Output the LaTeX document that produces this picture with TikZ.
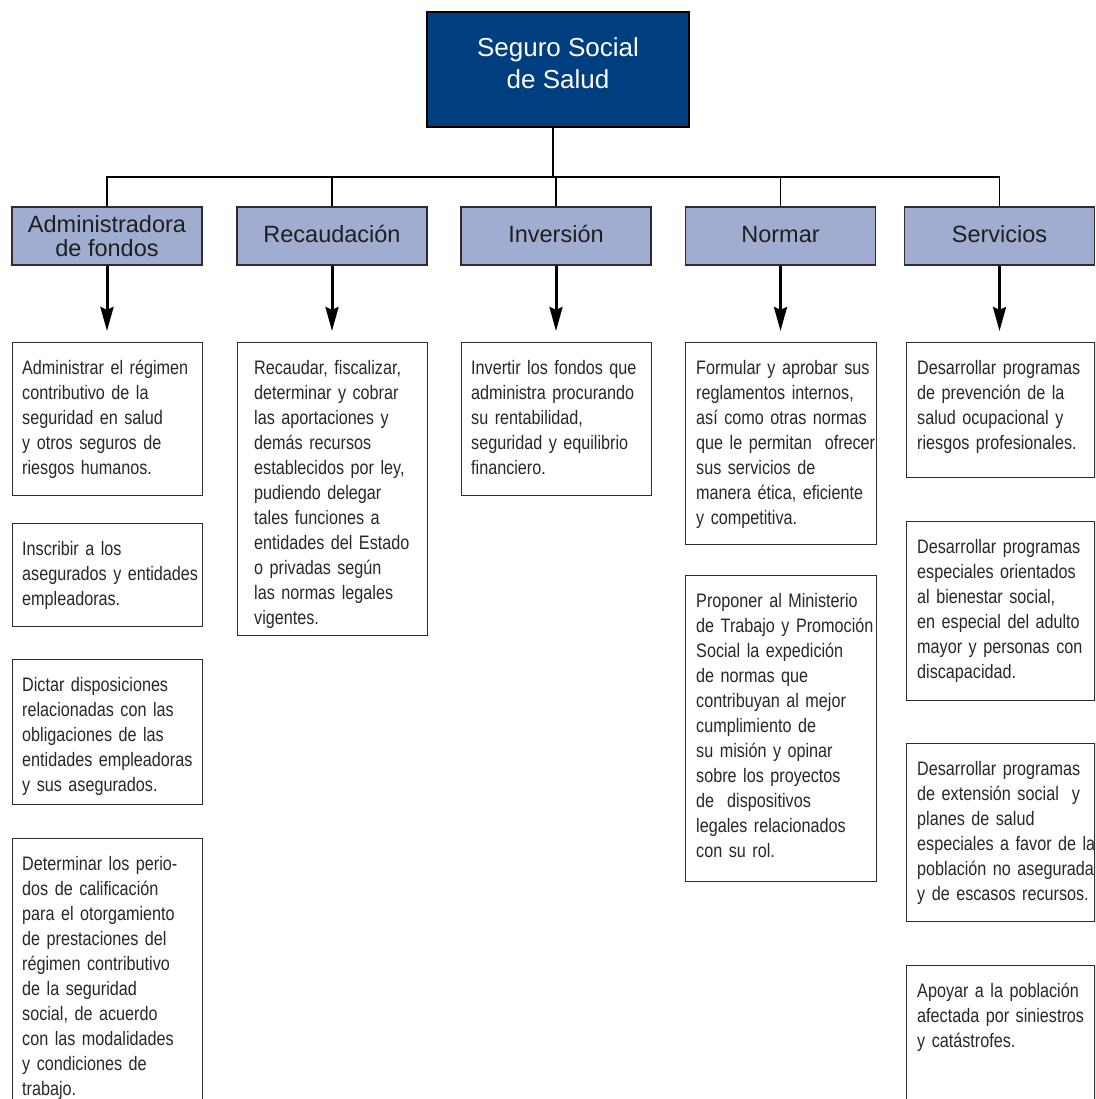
\documentclass[tikz,border=0pt]{standalone}
\usepackage{fontspec}
\usetikzlibrary{arrows.meta}
\newfontfamily\hfont{Liberation Sans}
\newfontfamily\condfont[FakeStretch=0.83]{Liberation Sans}
\definecolor{topblue}{RGB}{0,63,127}
\definecolor{headfill}{RGB}{160,172,208}
\definecolor{bordergray}{RGB}{45,45,45}
\definecolor{txtgray}{RGB}{40,40,40}
\setlength{\parindent}{0pt}
\newcommand\bodyfont{\condfont\fontsize{19.5}{25}\selectfont}
\newcommand\mkbox[7][10]{%
  \node[tbox, minimum width=#5-#3, minimum height=#6-#4, anchor=north west] (#2) at (#3,#4) {};
  \node[ttext] (#2t) at ([xshift=#1pt,yshift=-14pt]#2.north west) {\rule{0pt}{18pt}#7};
}
\begin{document}
\begin{tikzpicture}[x=1pt,y=-1pt,
  tbox/.style={draw=bordergray, line width=1.3pt, fill=white, inner sep=0pt},
  ttext/.style={anchor=north west, inner sep=0pt, text width=200pt, align=left, text=txtgray,
    font=\bodyfont},
  hbox/.style={draw=bordergray, line width=1.3pt, fill=headfill, minimum width=190pt, minimum height=58pt,
    inner sep=0pt, align=center, text=black!88, font=\hfont\fontsize{23.5}{24}\selectfont},
  one/.style={text height=17pt, text depth=5pt},
  conn/.style={line width=1.3pt, black},
  arr/.style={line width=3pt, black, -{Stealth[length=24pt, width=13pt, inset=3pt]}, shorten >=11pt}
]
\useasboundingbox (0,0) rectangle (1095,1099);
\clip (0,0) rectangle (1095,1099);
\fill[white] (0,0) rectangle (1095,1099);

% top box
\node[draw=black, line width=1.3pt, fill=topblue, minimum width=262pt, minimum height=115pt, inner sep=0pt] (top) at (558,69.5) {};
\node[text=white, align=center, inner sep=0pt, font=\hfont\fontsize{26}{32}\selectfont] (toplbl) at (558,63) {Seguro Social\\de Salud};

% second level
\node[hbox] (h1) at (107,236) {Administradora\\de fondos};
\node[hbox, one] (h2) at (332,236) {Recaudación};
\node[hbox, one] (h3) at (556,236) {Inversión};
\node[hbox, one] (h4) at (780.5,236) {Normar};
\node[hbox, one] (h5) at (999.5,236) {Servicios};

\coordinate (j) at (553,177);
\draw[conn] (top.south -| j) -- (j);
\draw[conn] (h1.north) -- (h1.north |- j) -- (h5.north |- j) -- (h5.north);
\draw[conn] (h2.north) -- (h2.north |- j);
\draw[conn] (h3.north) -- (h3.north |- j);
\draw[conn] (h4.north) -- (h4.north |- j);

% column 1
\mkbox{b11}{12}{342}{202}{495}{Administrar el régimen\\contributivo de la\\seguridad en salud\\y otros seguros de\\riesgos humanos.}
\mkbox{b12}{12}{523}{202}{626}{Inscribir a los\\asegurados y entidades\\empleadoras.}
\mkbox{b13}{12}{659}{202}{804}{Dictar disposiciones\\relacionadas con las\\obligaciones de las\\entidades empleadoras\\y sus asegurados.}
\mkbox{b14}{12}{838}{202}{1115}{Determinar los perio-\\dos de calificación\\para el otorgamiento\\de prestaciones del\\régimen contributivo\\de la seguridad\\social, de acuerdo\\con las modalidades\\y condiciones de\\trabajo.}

% column 2
\mkbox[17]{b21}{237}{342}{427}{635}{Recaudar, fiscalizar,\\determinar y cobrar\\las aportaciones y\\demás recursos\\establecidos por ley,\\pudiendo delegar\\tales funciones a\\entidades del Estado\\o privadas según\\las normas legales\\vigentes.}

% column 3
\mkbox{b31}{461}{342}{651}{495}{Invertir los fondos que\\administra procurando\\su rentabilidad,\\seguridad y equilibrio\\financiero.}

% column 4
\mkbox[11]{b41}{685}{342}{876}{544}{Formular y aprobar sus\\reglamentos internos,\\así como otras normas\\que le permitan\ \ ofrecer\\sus servicios de\\manera ética, eficiente\\y competitiva.}
\mkbox[11]{b42}{685}{575}{876}{881}{Proponer al Ministerio\\de Trabajo y Promoción\\Social la expedición\\de normas que\\contribuyan al mejor\\cumplimiento de\\su misión y opinar\\sobre los proyectos\\de\ \ dispositivos\\legales relacionados\\con su rol.}

% column 5
\mkbox[11]{b51}{906}{342}{1094.3}{477}{Desarrollar programas\\de prevención de la\\salud ocupacional y\\riesgos profesionales.}
\mkbox[11]{b52}{906}{521}{1094.3}{700}{Desarrollar programas\\especiales orientados\\al bienestar social,\\en especial del adulto\\mayor y personas con\\discapacidad.}
\mkbox[11]{b53}{906}{743}{1094.3}{921}{Desarrollar programas\\de extensión social\ \ y\\planes de salud\\especiales a favor de la\\población no asegurada\\y de escasos recursos.}
\mkbox[11]{b54}{906}{965}{1094.3}{1115}{Apoyar a la población\\afectada por siniestros\\y catástrofes.}

% arrows
\draw[arr] (h1.south) -- (b11.north -| h1.south);
\draw[arr] (h2.south) -- (b21.north -| h2.south);
\draw[arr] (h3.south) -- (b31.north -| h3.south);
\draw[arr] (h4.south) -- (b41.north -| h4.south);
\draw[arr] (h5.south) -- (b51.north -| h5.south);
\end{tikzpicture}
\end{document}
